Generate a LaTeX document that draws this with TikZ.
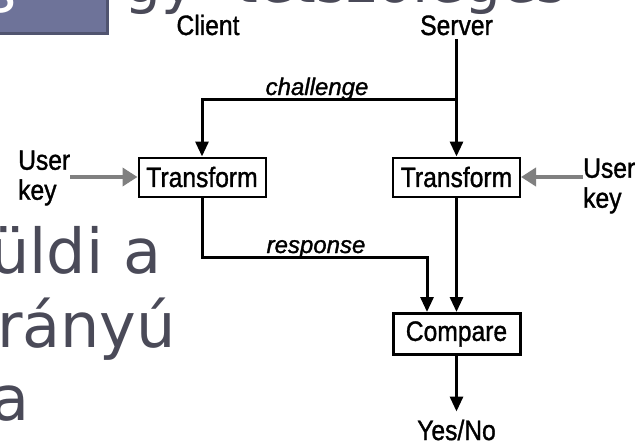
\documentclass[tikz,border=0pt]{standalone}
\usepackage{fontspec}
\setmainfont{Liberation Sans}
\newfontfamily\diafont{Liberation Sans}[FakeBold=1.3]
\newfontfamily\bgfont{DejaVu Sans}
\usetikzlibrary{arrows.meta}
\definecolor{bgtext}{HTML}{4A4A58}
\definecolor{tabfill}{HTML}{6E7399}
\definecolor{tabedge}{HTML}{50546F}
\definecolor{keygray}{HTML}{808080}
\newcommand{\nar}[1]{\scalebox{0.88}[1]{#1}}
\begin{document}
\begin{tikzpicture}[x=1pt,y=-1pt,
  bigtxt/.style={font=\bgfont\fontsize{62}{73}\selectfont, text=bgtext, inner sep=0pt, anchor=base west},
  lbl/.style={font=\diafont\fontsize{28}{30}\selectfont, inner sep=0pt},
  ital/.style={font=\diafont\itshape\fontsize{24}{26}\selectfont, inner sep=0pt, anchor=base},
  box/.style={draw, line width=2pt, minimum width=127pt, minimum height=39pt, inner sep=0pt, font=\diafont\fontsize{28}{30}\selectfont},
  arr/.style={line width=3pt, -{Triangle[length=15pt,width=13pt]}},
  garr/.style={draw=keygray, line width=4pt, -{Triangle[length=15pt,width=18pt]}},
]
\useasboundingbox[fill=white] (0,0) rectangle (644,444);
% background slide text
\node[bigtxt, font=\bgfont\fontsize{58}{70}\selectfont] (t1) at (124,3) {gy\hspace{40pt}tetszőleges};
\node[bigtxt] (t2) at (-10,273) {üldi a};
\node[bigtxt] (t3) at (-3,347) {rányú};
\node[bigtxt] (t4) at (-9,420) {a};
% tab
\fill[tabedge] (0,0) rectangle (109,35);
\fill[tabfill] (0,0) rectangle (106,32);
\node[bigtxt, text=white] (tabs) at (-16,13) {s};
% diagram
\node[lbl, anchor=base] (client) at (208,35) {\nar{Client}};
\node[lbl, anchor=base] (server) at (456.5,35) {\nar{Server}};
\node[ital] (chl) at (317,95) {challenge};
\node[box] (tl) at (202,177) {\nar{Transform}};
\node[box] (tr) at (456.5,177) {\nar{Transform}};
\node[box, line width=3pt, minimum height=41pt] (cmp) at (456.5,334) {\nar{Compare}};
\node[lbl, anchor=base] (yn) at (456.5,440) {\nar{Yes/No}};
\node[ital] (rsp) at (316,253) {response};
\node[lbl, align=left, anchor=west] (ukl) at (18,178) {\nar{User}\\\nar{key}};
\node[lbl, align=left, anchor=west] (ukr) at (583,186) {\nar{User}\\\nar{key}};
\coordinate (cj) at (456.5,99);
\draw[arr] ([yshift=-4pt]server.south) -- (tr.north);
\draw[arr] (cj) -| (tl.north);
\draw[arr] (tl.south) -- ++(0,60) -| ([xshift=-29.5pt]cmp.north);
\draw[arr] (tr.south) -- (cmp.north);
\draw[arr] (cmp.south) -- ([yshift=8pt]yn.north);
\draw[garr] (ukl.east |- tl.west) -- (tl.west);
\draw[garr] (ukr.west |- tr.east) -- (tr.east);
\end{tikzpicture}
\end{document}
